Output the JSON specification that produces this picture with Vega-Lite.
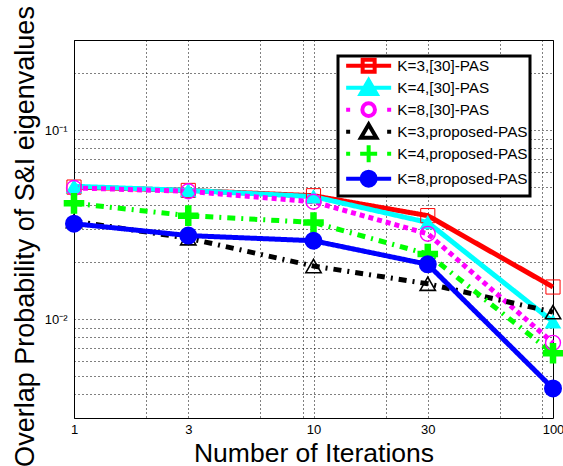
{
  "$schema": "https://vega.github.io/schema/vega-lite/v6.json",
  "width": 479,
  "height": 378,
  "autosize": "none",
  "padding": {"left": 74, "top": 40, "right": 10, "bottom": 48},
  "background": "white",
  "config": {
    "font": "Liberation Sans",
    "view": {"stroke": "black", "strokeWidth": 1},
    "axis": {
      "grid": true,
      "gridDash": [1, 3],
      "gridColor": "black",
      "gridOpacity": 1,
      "gridWidth": 1,
      "ticks": false,
      "tickSize": 0,
      "domain": false,
      "labelFont": "Liberation Sans",
      "labelFontSize": 13,
      "labelColor": "black",
      "labelOverlap": false,
      "labelFlush": false,
      "titleFont": "Liberation Sans",
      "titleFontSize": 26.5,
      "titleFontWeight": "normal",
      "titleColor": "black"
    }
  },
  "data": {
    "values": [
      {"series": "K=3,[30]-PAS", "iter": 1, "p": 0.0500},
      {"series": "K=3,[30]-PAS", "iter": 3, "p": 0.0480},
      {"series": "K=3,[30]-PAS", "iter": 10, "p": 0.0450},
      {"series": "K=3,[30]-PAS", "iter": 30, "p": 0.0353},
      {"series": "K=3,[30]-PAS", "iter": 100, "p": 0.0148},
      {"series": "K=4,[30]-PAS", "iter": 1, "p": 0.0505},
      {"series": "K=4,[30]-PAS", "iter": 3, "p": 0.0480},
      {"series": "K=4,[30]-PAS", "iter": 10, "p": 0.0445},
      {"series": "K=4,[30]-PAS", "iter": 30, "p": 0.0325},
      {"series": "K=4,[30]-PAS", "iter": 100, "p": 0.0097},
      {"series": "K=8,[30]-PAS", "iter": 1, "p": 0.0495},
      {"series": "K=8,[30]-PAS", "iter": 3, "p": 0.0475},
      {"series": "K=8,[30]-PAS", "iter": 10, "p": 0.0418},
      {"series": "K=8,[30]-PAS", "iter": 30, "p": 0.0283},
      {"series": "K=8,[30]-PAS", "iter": 100, "p": 0.0075},
      {"series": "K=3,proposed-PAS", "iter": 1, "p": 0.0330},
      {"series": "K=3,proposed-PAS", "iter": 3, "p": 0.0268},
      {"series": "K=3,proposed-PAS", "iter": 10, "p": 0.0191},
      {"series": "K=3,proposed-PAS", "iter": 30, "p": 0.0154},
      {"series": "K=3,proposed-PAS", "iter": 100, "p": 0.0109},
      {"series": "K=4,proposed-PAS", "iter": 1, "p": 0.0410},
      {"series": "K=4,proposed-PAS", "iter": 3, "p": 0.0353},
      {"series": "K=4,proposed-PAS", "iter": 10, "p": 0.0325},
      {"series": "K=4,proposed-PAS", "iter": 30, "p": 0.0221},
      {"series": "K=4,proposed-PAS", "iter": 100, "p": 0.0066},
      {"series": "K=8,proposed-PAS", "iter": 1, "p": 0.0320},
      {"series": "K=8,proposed-PAS", "iter": 3, "p": 0.0277},
      {"series": "K=8,proposed-PAS", "iter": 10, "p": 0.0260},
      {"series": "K=8,proposed-PAS", "iter": 30, "p": 0.0195},
      {"series": "K=8,proposed-PAS", "iter": 100, "p": 0.0043}
    ]
  },
  "encoding": {
    "x": {
      "field": "iter",
      "type": "quantitative",
      "scale": {"type": "log", "domain": [1, 100], "nice": false},
      "axis": {
        "title": "Number of Iterations",
        "values": [1, 2, 3, 6, 9, 10, 20, 30, 60, 90, 100],
        "labelExpr": "indexof([1, 3, 10, 30, 100], datum.value) >= 0 ? '' + datum.value : ''",
        "labelPadding": 5,
        "titleY": 43,
        "titleBaseline": "alphabetic"
      }
    },
    "y": {
      "field": "p",
      "type": "quantitative",
      "scale": {"type": "log", "domain": [0.003, 0.3], "nice": false},
      "axis": {
        "title": "Overlap Probability of S&I eigenvalues",
        "values": [0.003, 0.004, 0.005, 0.006, 0.007, 0.008, 0.009, 0.01, 0.02, 0.03, 0.04, 0.05, 0.06, 0.07, 0.08, 0.09, 0.1, 0.2, 0.3],
        "labelExpr": "datum.value == 0.1 ? '10⁻¹' : (datum.value == 0.01 ? '10⁻²' : '')",
        "labelPadding": 7,
        "titleFontSize": 27,
        "titleX": -41,
        "titleY": 196,
        "titleBaseline": "alphabetic",
        "titleAngle": 270
      }
    }
  },
  "layer": [
    {
      "mark": {"type": "line", "strokeWidth": 5, "clip": false},
      "encoding": {
        "color": {
          "field": "series",
          "type": "nominal",
          "scale": {
            "domain": ["K=3,[30]-PAS", "K=4,[30]-PAS", "K=8,[30]-PAS", "K=3,proposed-PAS", "K=4,proposed-PAS", "K=8,proposed-PAS"],
            "range": ["#ff0000", "#00ffff", "#ff00ff", "#000000", "#00ff00", "#0000ff"]
          },
          "legend": {
            "title": null,
            "orient": "none",
            "legendX": 264,
            "legendY": 16,
            "symbolSize": 100,
            "symbolStrokeWidth": 4,
            "symbolOffset": 21,
            "labelOffset": 21,
            "labelFont": "Liberation Sans",
            "labelFontSize": 15.3,
            "labelColor": "black",
            "padding": 2,
            "rowPadding": -10,
            "strokeColor": "black",
            "fillColor": "white",
            "encode": {
              "legend": {"update": {"strokeWidth": {"value": 3}}},
              "symbols": {
                "update": {
                  "shape": {"signal": "datum.value == 'K=3,[30]-PAS' ? 'M-4.5,0H4.5M-1.2,-1.2H1.2V1.2H-1.2Z' : datum.value == 'K=4,[30]-PAS' ? 'M-4.5,0H4.5M0,-1.5L1.6,1.25L-1.6,1.25Z' : datum.value == 'K=8,[30]-PAS' ? 'M-4.5,0H-3.7M3.7,0H4.5M1.26,0A1.26,1.26,0,1,1,-1.26,0A1.26,1.26,0,1,1,1.26,0Z' : datum.value == 'K=3,proposed-PAS' ? 'M-4.5,0H-3.7M3.7,0H4.5M0,-1.45L1.55,1.2L-1.55,1.2Z' : datum.value == 'K=4,proposed-PAS' ? 'M-4.5,0H-3.7M3.7,0H4.5M-1.7,0H1.7M0,-1.7V1.7' : 'M-4.5,0H4.5M1.4,0A1.4,1.4,0,1,1,-1.4,0A1.4,1.4,0,1,1,1.4,0Z'"},
                  "fill": {"signal": "datum.value == 'K=4,[30]-PAS' ? '#00ffff' : datum.value == 'K=8,proposed-PAS' ? '#0000ff' : 'transparent'"},
                  "size": {"value": 100},
                  "strokeWidth": {"value": 4}
                }
              }
            }
          }
        },
        "strokeDash": {
          "field": "series",
          "type": "nominal",
          "scale": {
            "domain": ["K=8,proposed-PAS", "K=4,proposed-PAS", "K=3,proposed-PAS", "K=8,[30]-PAS", "K=4,[30]-PAS", "K=3,[30]-PAS"],
            "range": [[1, 0], [8, 6, 2, 6], [8, 6, 2, 6], [5, 4], [1, 0], [1, 0]]
          },
          "legend": null
        }
      }
    },
    {
      "mark": {"type": "point", "opacity": 1, "clip": false},
      "encoding": {
        "shape": {
          "field": "series",
          "type": "nominal",
          "scale": {
            "domain": ["K=8,proposed-PAS", "K=4,proposed-PAS", "K=3,proposed-PAS", "K=8,[30]-PAS", "K=4,[30]-PAS", "K=3,[30]-PAS"],
            "range": ["circle", "M-1.2,-0.3H-0.3V-1.2H0.3V-0.3H1.2V0.3H0.3V1.2H-0.3V0.3H-1.2Z", "triangle-up", "circle", "triangle-up", "square"]
          },
          "legend": null
        },
        "stroke": {
          "field": "series",
          "type": "nominal",
          "scale": {
            "domain": ["K=8,proposed-PAS", "K=4,proposed-PAS", "K=3,proposed-PAS", "K=8,[30]-PAS", "K=4,[30]-PAS", "K=3,[30]-PAS"],
            "range": ["#0000ff", "#00ff00", "#000000", "#ff00ff", "#00ffff", "#ff0000"]
          },
          "legend": null
        },
        "fill": {
          "field": "series",
          "type": "nominal",
          "scale": {
            "domain": ["K=8,proposed-PAS", "K=4,proposed-PAS", "K=3,proposed-PAS", "K=8,[30]-PAS", "K=4,[30]-PAS", "K=3,[30]-PAS"],
            "range": ["#0000ff", "#00ff00", "transparent", "transparent", "#00ffff", "transparent"]
          },
          "legend": null
        },
        "size": {
          "field": "series",
          "type": "nominal",
          "scale": {
            "domain": ["K=8,proposed-PAS", "K=4,proposed-PAS", "K=3,proposed-PAS", "K=8,[30]-PAS", "K=4,[30]-PAS", "K=3,[30]-PAS"],
            "range": [256, 200, 400, 156, 361, 144]
          },
          "legend": null
        },
        "strokeWidth": {
          "field": "series",
          "type": "nominal",
          "scale": {
            "domain": ["K=8,proposed-PAS", "K=4,proposed-PAS", "K=3,proposed-PAS", "K=8,[30]-PAS", "K=4,[30]-PAS", "K=3,[30]-PAS"],
            "range": [2, 1, 5.5, 5.5, 2, 6]
          },
          "legend": null
        }
      }
    }
  ]
}
